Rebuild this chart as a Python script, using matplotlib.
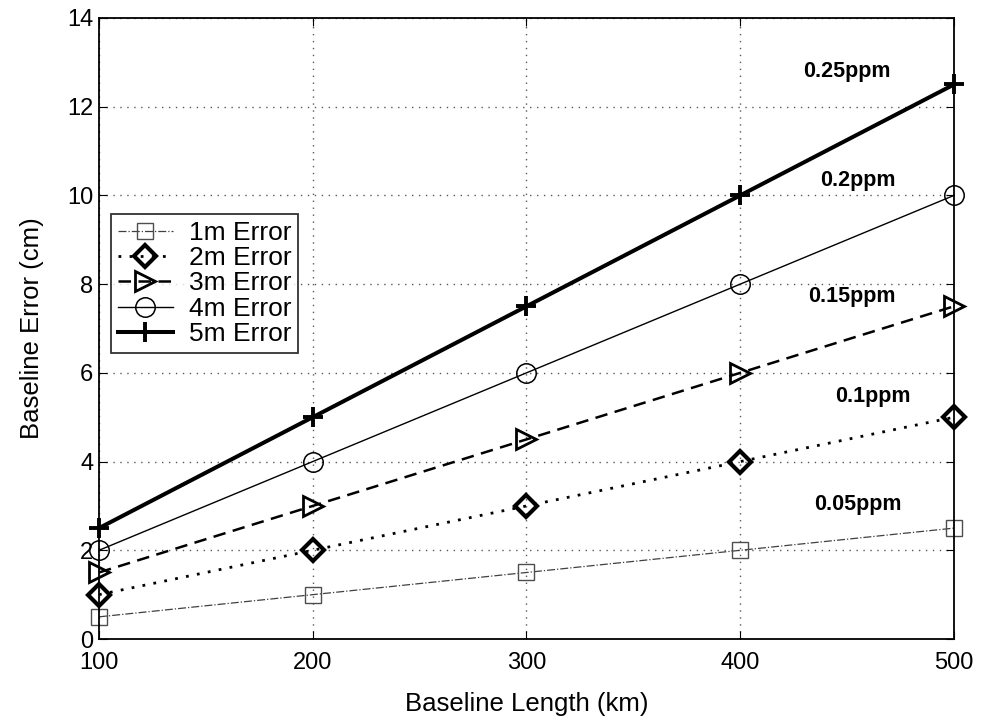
import numpy as np
import matplotlib.pyplot as plt

plt.rcParams['font.family'] = ['Liberation Sans', 'DejaVu Sans']

# baseline length (km) and resulting baseline error (cm) per orbit error
baseline_km = [100, 200, 300, 400, 500]
err_1m = [0.5, 1.0, 1.5, 2.0, 2.5]
err_2m = [1.0, 2.0, 3.0, 4.0, 5.0]
err_3m = [1.5, 3.0, 4.5, 6.0, 7.5]
err_4m = [2.0, 4.0, 6.0, 8.0, 10.0]
err_5m = [2.5, 5.0, 7.5, 10.0, 12.5]

ppm_labels = ['0.25ppm', '0.2ppm', '0.15ppm', '0.1ppm', '0.05ppm']
ppm_x = [450, 455, 452, 462, 455]
ppm_y = [12.8, 10.33, 7.71, 5.46, 3.04]

fig = plt.figure(figsize=(9.84, 7.18), dpi=100)
ax = fig.add_axes([0.1006, 0.11, 0.8689, 0.865])

ax.plot(baseline_km, err_1m, color='0.25', ls='-.', lw=0.9, marker='s',
        ms=11, mfc='none', mec='0.3', mew=1.0, label='1m Error', clip_on=False)
ax.plot(baseline_km, err_2m, color='k', ls=(0, (1, 3)), lw=2.0, marker='D',
        ms=11, mfc='none', mec='k', mew=3.0, label='2m Error', clip_on=False)
ax.plot(baseline_km, err_3m, color='k', ls=(0, (5, 3)), lw=1.8, marker='>',
        ms=14, mfc='none', mec='k', mew=2.0, label='3m Error', clip_on=False)
ax.plot(baseline_km, err_4m, color='k', ls='-', lw=1.0, marker='o',
        ms=14, mfc='none', mec='k', mew=1.1, label='4m Error', clip_on=False)
ax.plot(baseline_km, err_5m, color='k', ls='-', lw=2.9, marker='+',
        ms=15, mec='k', mew=2.8, label='5m Error', clip_on=False)

for txt, x, y in zip(ppm_labels, ppm_x, ppm_y):
    ax.text(x, y, txt, fontsize=15.5, fontweight='bold', ha='center', va='center')

ax.set_xlim(100, 500)
ax.set_ylim(0, 14)
ax.set_xticks([100, 200, 300, 400, 500])
ax.set_yticks(np.arange(0, 15, 2))
ax.tick_params(direction='in', length=6, labelsize=17, top=True, right=True)
ax.tick_params(axis='x', pad=9)
ax.tick_params(axis='y', pad=4)
ax.grid(True, ls=(0, (1, 4)), color='0.35', lw=1.0)
for s in ax.spines.values():
    s.set_linewidth(1.3)

ax.set_xlabel('Baseline Length (km)', fontsize=18.5, labelpad=13)
ax.set_ylabel('Baseline Error (cm)', fontsize=18.5, labelpad=17)

leg = ax.legend(loc='upper left', bbox_to_anchor=(0.014, 0.684), fontsize=19,
                frameon=True, fancybox=False, edgecolor='k', handlelength=2.1,
                borderpad=0.25, labelspacing=0.05, handletextpad=0.6,
                borderaxespad=0)
leg.get_frame().set_linewidth(1.3)

fig.savefig('out.png', dpi=100)
